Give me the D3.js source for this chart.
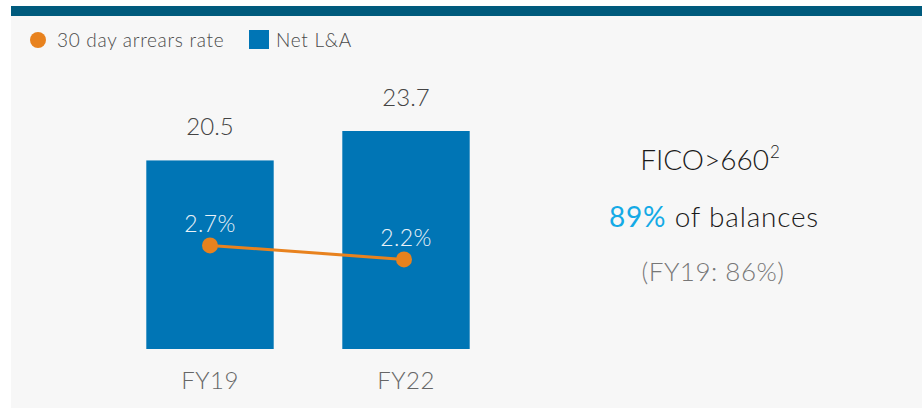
<!DOCTYPE html>
<html>
<head>
<meta charset="utf-8">
<script src="https://cdn.jsdelivr.net/npm/d3@7"></script>
<style>
	body { margin: 0; background: #fff; }
	text { font-family: Lato, "Open Sans", sans-serif; font-weight: 300; }
</style>
</head>
<body>
<svg id="chart"></svg>
<script>
var categories = ["FY19", "FY22"];
var netLA = [20.5, 23.7];
var arrears = [2.7, 2.2];
var arrearsLabels = ["2.7%", "2.2%"];

var W = 922, H = 408;

var svg = d3.select("#chart")
	.attr("width", W)
	.attr("height", H);

// panel + top bar
svg.append("rect").attr("x", 11).attr("y", 16).attr("width", W - 11).attr("height", H - 16).attr("fill", "#f7f7f7");
svg.append("rect").attr("x", 11).attr("y", 6).attr("width", W - 11).attr("height", 10).attr("fill", "#005b7d");

// legend
var legend = svg.append("g");
legend.append("circle").attr("cx", 38).attr("cy", 40).attr("r", 8).attr("fill", "#e8821e");
legend.append("text").attr("x", 57).attr("y", 47).attr("font-size", 19).attr("letter-spacing", 0.7).attr("fill", "#4a4a4a").text("30 day arrears rate");
legend.append("rect").attr("x", 249).attr("y", 30).attr("width", 20).attr("height", 19).attr("fill", "#0075b5");
legend.append("text").attr("x", 276).attr("y", 47).attr("font-size", 19).attr("letter-spacing", 0.7).attr("fill", "#4a4a4a").text("Net L&A");

// scales
var x = d3.scaleBand().domain(categories).range([112, 504]).paddingInner(0.35).paddingOuter(0.175);
var y = d3.scaleLinear().domain([0, 23.7]).range([349, 131]);
var y2 = d3.scaleLinear().domain([0, 10]).range([321, 41]);

var g = svg.append("g");

// bars
g.selectAll(".bar")
	.data(netLA)
	.enter().append("rect")
	.attr("class", "bar")
	.attr("x", function(d, i) { return x(categories[i]); })
	.attr("y", function(d) { return y(d); })
	.attr("width", x.bandwidth())
	.attr("height", function(d) { return y(0) - y(d); })
	.attr("fill", "#0075b5");

// bar value labels
g.selectAll(".val")
	.data(netLA)
	.enter().append("text")
	.attr("x", function(d, i) { return x(categories[i]) + x.bandwidth() / 2; })
	.attr("y", function(d) { return y(d) - 25; })
	.attr("text-anchor", "middle")
	.attr("font-size", 24)
	.attr("font-weight", 400)
	.attr("fill", "#444")
	.text(function(d) { return d.toFixed(1); });

// x axis labels
var xAxis = d3.axisBottom(x).tickSize(0).tickPadding(23);
var ax = g.append("g")
	.attr("transform", "translate(0,349)")
	.call(xAxis);
ax.select(".domain").remove();
ax.selectAll("text").attr("font-size", 24).attr("letter-spacing", 0.5).attr("fill", "#666")
	.attr("font-family", "Lato, sans-serif").attr("font-weight", 300);

// arrears line
var line = d3.line()
	.x(function(d, i) { return x(categories[i]) + x.bandwidth() / 2 - i * 2; })
	.y(function(d) { return y2(d); });

g.append("path")
	.datum(arrears)
	.attr("d", line)
	.attr("fill", "none")
	.attr("stroke", "#e8821e")
	.attr("stroke-width", 3);

g.selectAll(".dot")
	.data(arrears)
	.enter().append("circle")
	.attr("cx", function(d, i) { return x(categories[i]) + x.bandwidth() / 2 - i * 2; })
	.attr("cy", function(d) { return y2(d); })
	.attr("r", 8)
	.attr("fill", "#e8821e");

g.selectAll(".pct")
	.data(arrears)
	.enter().append("text")
	.attr("x", function(d, i) { return x(categories[i]) + x.bandwidth() / 2; })
	.attr("y", function(d) { return y2(d) - 13; })
	.attr("text-anchor", "middle")
	.attr("font-size", 23)
	.attr("letter-spacing", 0.4)
	.attr("fill", "#eaf2f8")
	.text(function(d, i) { return arrearsLabels[i]; });

// right-hand callout
var t1 = svg.append("text").attr("x", 710).attr("y", 170).attr("text-anchor", "middle")
	.attr("font-size", 28).attr("fill", "#1a1a1a");
t1.append("tspan").text("FICO>660");
t1.append("tspan").attr("font-size", 17).attr("dx", 1).attr("dy", -12).text("2");

var t2 = svg.append("text").attr("x", 714).attr("y", 227).attr("text-anchor", "middle")
	.attr("font-size", 28).attr("letter-spacing", 0.8).attr("fill", "#1a1a1a");
t2.append("tspan").attr("fill", "#14aae6").attr("font-weight", 400).text("89%");
t2.append("tspan").text(" of balances");

svg.append("text").attr("x", 713).attr("y", 281).attr("text-anchor", "middle")
	.attr("font-size", 26).attr("letter-spacing", 0.5).attr("fill", "#777").text("(FY19: 86%)");
</script>
</body>
</html>
